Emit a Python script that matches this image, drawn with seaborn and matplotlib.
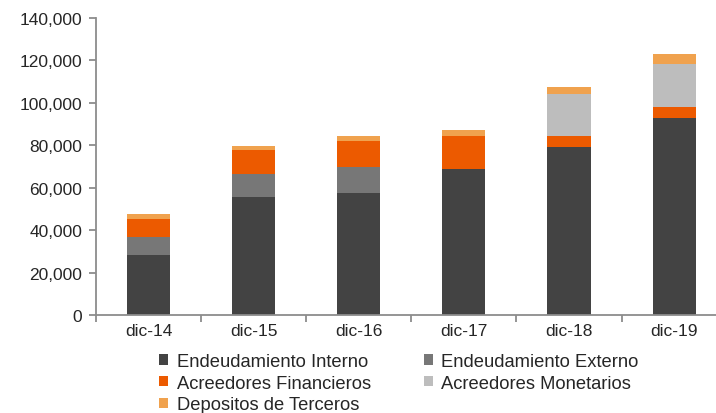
import numpy as np
import pandas as pd
import matplotlib
matplotlib.use("Agg")
import matplotlib.pyplot as plt
import seaborn as sns
from matplotlib.patches import Patch
from matplotlib.ticker import FuncFormatter, FixedLocator

categories = ["dic-14", "dic-15", "dic-16", "dic-17", "dic-18", "dic-19"]
interno = [28300, 55600, 57500, 68800, 79200, 92900]
externo = [8500, 10900, 12300, 0, 0, 0]
financieros = [8500, 11300, 12200, 15600, 5200, 5200]
monetarios = [0, 0, 0, 0, 19800, 20200]
depositos = [2300, 1900, 2400, 2800, 3300, 4800]

series_names = ["Endeudamiento Interno", "Endeudamiento Externo", "Acreedores Financieros",
                "Acreedores Monetarios", "Depositos de Terceros"]
series_vals = [interno, externo, financieros, monetarios, depositos]
colors = ["#434343", "#777777", "#ec5a00", "#bdbdbd", "#f0a24e"]

sns.set_style("white")
plt.rcParams["font.family"] = ["Liberation Sans", "DejaVu Sans"]

fig = plt.figure(figsize=(7.16, 4.14), dpi=100)
ax = fig.add_axes([96 / 716, 98 / 414, (716 - 96) / 716, (316 - 19) / 414])

cum = np.cumsum(np.array(series_vals, dtype=float), axis=0)
df = pd.DataFrame({"cat": categories})
for i in range(len(series_names) - 1, -1, -1):
    df["v"] = cum[i]
    sns.barplot(data=df, x="cat", y="v", color=colors[i], width=0.41, ax=ax,
                saturation=1, edgecolor="none", linewidth=0)

ax.set_ylim(0, 140000)
ax.set_xlim(-0.5, 5.5 - 10.7 / 105)
ax.yaxis.set_major_formatter(FuncFormatter(lambda v, p: f"{int(v):,}"))
ax.set_yticks(np.arange(0, 140001, 20000))
ax.set_xlabel("")
ax.set_ylabel("")
for s in ["top", "right"]:
    ax.spines[s].set_visible(False)
for s in ["left", "bottom"]:
    ax.spines[s].set_color("#8c8c8c")
    ax.spines[s].set_linewidth(1.3)
ax.tick_params(axis="y", which="major", length=5, color="#8c8c8c", width=1.3,
               labelsize=12.5, pad=5, direction="out", left=True)
ax.tick_params(axis="x", which="major", length=0, labelsize=12.5, pad=6)
ax.xaxis.set_minor_locator(FixedLocator(np.arange(-0.5, 6, 1)))
ax.tick_params(axis="x", which="minor", length=5, color="#8c8c8c", width=1.3,
               direction="out", bottom=True)

order = [0, 2, 4, 1, 3]
handles = [Patch(facecolor=colors[i], edgecolor="none") for i in order]
labels = [series_names[i] for i in order]
fig.legend(handles, labels, ncol=2, loc="upper left", bbox_to_anchor=(150 / 716, 1 - 345 / 414),
           frameon=False, fontsize=13.2, handlelength=0.5, handleheight=0.5,
           handletextpad=0.45, columnspacing=2.9, labelspacing=0.25, borderpad=0)

fig.savefig("out.png", dpi=100)
